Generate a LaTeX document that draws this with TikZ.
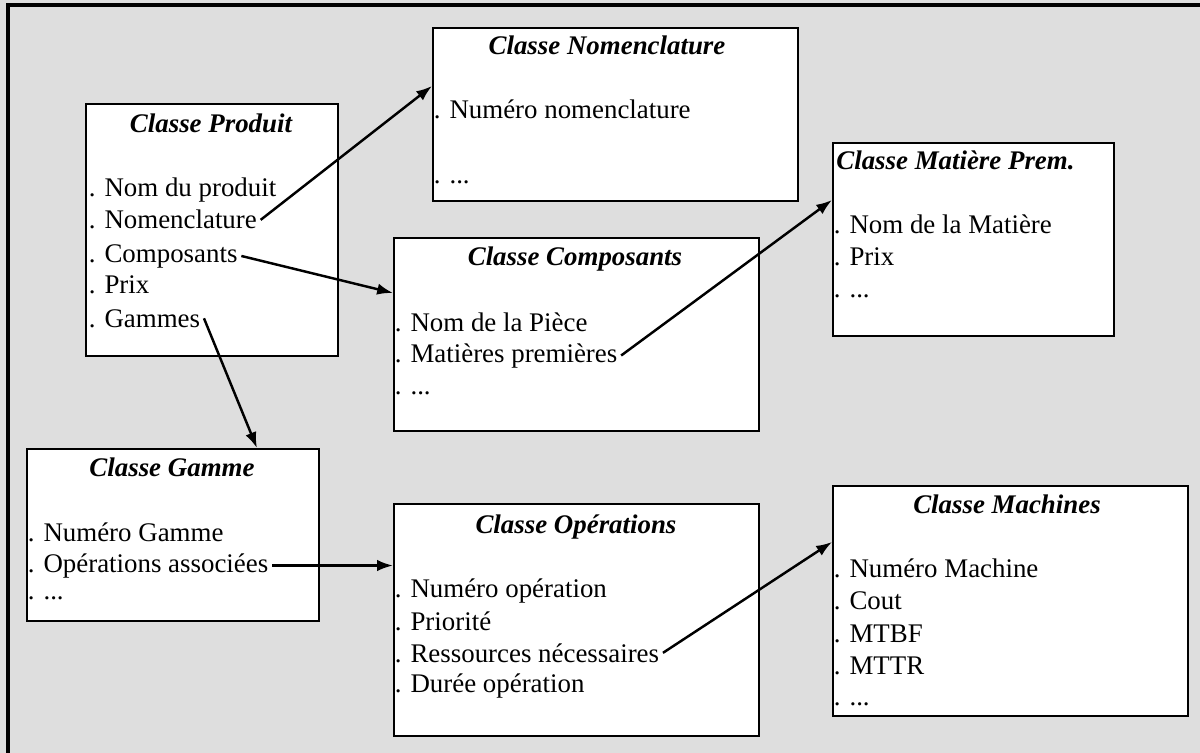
\documentclass[tikz,border=0pt]{standalone}
\usepackage{fontspec}
\setmainfont{Liberation Serif}
\usetikzlibrary{arrows.meta, positioning}

\begin{document}
\begin{tikzpicture}[x=0.02cm, y=-0.02cm, >={Latex[length=9pt, width=6.5pt]},
			classe/.style={draw, line width=1.4pt, fill=white, anchor=north west, inner sep=0pt},
			titre/.style={font=\fontsize{15.3}{18}\selectfont\bfseries\itshape, anchor=base, inner sep=0pt},
			attr/.style={font=\fontsize{15.3}{18}\selectfont, anchor=base west, inner xsep=2pt, inner ysep=0pt},
			lien/.style={line width=1.4pt, black, ->}
			]
			\useasboundingbox (0,0) rectangle (1200,753);
			\clip (0,0) rectangle (1200,753);
			\fill[black!13] (0,0) rectangle (1200,753);
			\draw[line width=2pt] (8,5) rectangle (1215,770);

			\node [classe, minimum width=5.04cm, minimum height=5.04cm](prod) at (85,103) {};
			\node [classe, minimum width=7.30cm, minimum height=3.46cm](nomen) at (432,27) {};
			\node [classe, minimum width=7.30cm, minimum height=3.86cm](compo) at (393,237) {};
			\node [classe, minimum width=5.62cm, minimum height=3.86cm](matp) at (832,142) {};
			\node [classe, minimum width=5.84cm, minimum height=3.44cm](gamme) at (26,448) {};
			\node [classe, minimum width=7.30cm, minimum height=4.64cm](oper) at (393,503) {};
			\node [classe, minimum width=7.10cm, minimum height=4.60cm](mach) at (832,485) {};

			\node [titre](tprod) at (211,133) {Classe Produit};
			\node [titre](tnomen) at (607,55) {Classe Nomenclature};
			\node [titre](tcompo) at (575,266) {Classe Composants};
			\node [titre, anchor=base west](tmatp) at (836,170) {Classe Matière Prem.};
			\node [titre](tgamme) at (172,476) {Classe Gamme};
			\node [titre](toper) at (576,533) {Classe Opérations};
			\node [titre](tmach) at (1007,513) {Classe Machines};

			\node [attr](p1) at (85,197) {. Nom du produit};
			\node [attr](p2) at (85,229) {. Nomenclature};
			\node [attr](p3) at (85,262) {. Composants};
			\node [attr](p4) at (85,294) {. Prix};
			\node [attr](p5) at (85,327) {. Gammes};

			\node [attr](n1) at (430,119) {. Numéro nomenclature};
			\node [attr](n2) at (430,184) {. ...};

			\node [attr](c1) at (391,331) {. Nom de la Pièce};
			\node [attr](c2) at (391,362) {. Matières premières};
			\node [attr](c3) at (391,394) {. ...};

			\node [attr](m1) at (830,234) {. Nom de la Matière};
			\node [attr](m2) at (830,266) {. Prix};
			\node [attr](m3) at (830,297) {. ...};

			\node [attr](g1) at (24,541) {. Numéro Gamme};
			\node [attr](g2) at (24,572) {. Opérations associées};
			\node [attr](g3) at (24,599) {. ...};

			\node [attr](o1) at (391,597) {. Numéro opération};
			\node [attr](o2) at (391,630) {. Priorité};
			\node [attr](o3) at (391,662) {. Ressources nécessaires};
			\node [attr](o4) at (391,692) {. Durée opération};

			\node [attr](k1) at (830,577) {. Numéro Machine};
			\node [attr](k2) at (830,609) {. Cout};
			\node [attr](k3) at (830,642) {. MTBF};
			\node [attr](k4) at (830,674) {. MTTR};
			\node [attr](k5) at (830,705) {. ...};

			\draw[lien] (p2.east) -- ([yshift=-1.18cm]nomen.north west);
			\draw[lien] (p3.east) -- ([yshift=-1.12cm]compo.north west);
			\draw[lien] (p5.east) -- ([xshift=4.62cm]gamme.north west);
			\draw[lien] (c2.east) -- ([yshift=-1.16cm]matp.north west);
			\draw[lien] (g2.east) -- (g2.east -| oper.west);
			\draw[lien] (o3.east) -- ([yshift=-1.14cm]mach.north west);
		\end{tikzpicture}
\end{document}
